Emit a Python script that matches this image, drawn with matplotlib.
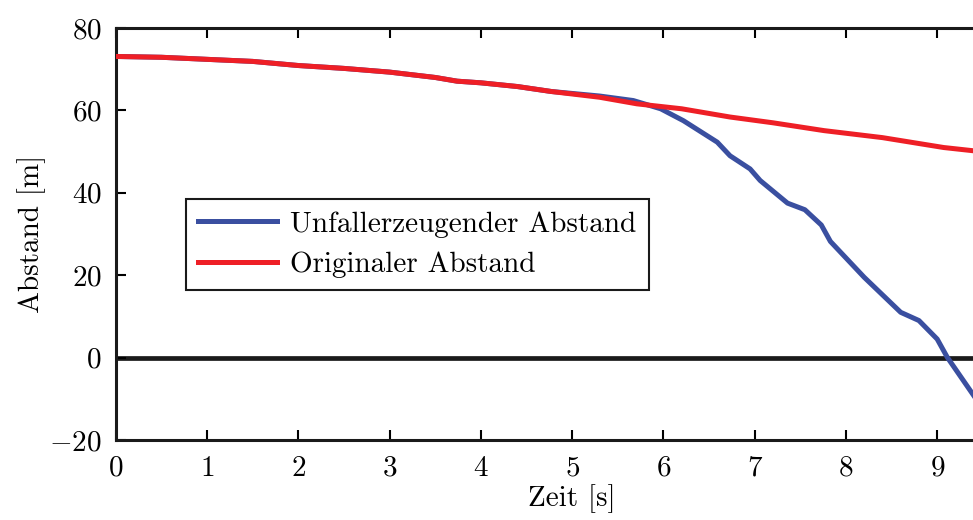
import numpy as np
import matplotlib
matplotlib.use("Agg")
import matplotlib.pyplot as plt

# DATEN
zeit_orig = [0.0, 0.5, 1.0, 1.5, 2.0, 2.5, 3.0, 3.5, 3.74, 4.0, 4.4, 4.77, 5.3, 5.71,
             6.2, 6.73, 7.2, 7.76, 8.4, 9.07, 9.4]
abst_orig = [73.1, 72.9, 72.4, 71.9, 70.9, 70.2, 69.3, 68.0, 67.1, 66.7, 65.8, 64.6,
             63.2, 61.6, 60.4, 58.4, 57.0, 55.1, 53.4, 51.0, 50.2]

zeit_unf = [0.0, 0.5, 1.0, 1.5, 2.0, 2.5, 3.0, 3.5, 3.74, 4.0, 4.4, 4.77, 5.3, 5.67,
            5.97, 6.22, 6.59, 6.73, 6.95, 7.06, 7.36, 7.55, 7.73, 7.83, 8.2, 8.6,
            8.8, 9.0, 9.11, 9.4]
abst_unf = [73.1, 72.9, 72.4, 71.9, 70.9, 70.2, 69.3, 68.0, 67.1, 66.7, 65.8, 64.6,
            63.5, 62.4, 60.4, 57.5, 52.3, 49.0, 45.8, 43.0, 37.5, 35.9, 32.2, 28.2,
            19.5, 11.0, 9.0, 4.5, 0.1, -9.2]

x_ticks = [0, 1, 2, 3, 4, 5, 6, 7, 8, 9]
y_ticks = [-20, 0, 20, 40, 60, 80]

BLAU = "#3a4fa0"
ROT = "#ee1f26"

plt.rcParams["font.family"] = ["cmr10"]
plt.rcParams["mathtext.fontset"] = "cm"
plt.rcParams["axes.formatter.use_mathtext"] = True
plt.rcParams["font.size"] = 21

fig = plt.figure(figsize=(9.73, 5.2), dpi=100)
ax = fig.add_axes([0.119, 0.1538, 0.938, 0.7923])

ax.axhline(0, color="#1a1a1a", linewidth=3.4, zorder=1)
ax.plot(zeit_unf, abst_unf, color=BLAU, linewidth=3.6, label="Unfallerzeugender Abstand", zorder=2)
ax.plot(zeit_orig, abst_orig, color=ROT, linewidth=3.6, label="Originaler Abstand", zorder=3)

ax.set_xlim(0, 10)
ax.set_ylim(-20, 80)
ax.set_xticks(x_ticks)
ax.set_yticks(y_ticks)
ax.tick_params(direction="in", length=7, width=1.5, top=True, right=True, pad=11)
ax.tick_params(axis="y", pad=10)
for s in ax.spines.values():
    s.set_linewidth(2.2)
    s.set_color("#1a1a1a")

ax.set_xlabel("Zeit [s]", labelpad=2)
ax.set_ylabel("Abstand [m]", labelpad=2)

leg = ax.legend(loc="lower left", bbox_to_anchor=(0.061, 0.328), fontsize=21,
                fancybox=False, edgecolor="#1a1a1a", framealpha=1,
                handlelength=2.7, borderpad=0.42, labelspacing=0.48, handletextpad=0.45)
leg.get_frame().set_linewidth(1.5)

plt.savefig("out.png", dpi=100)
plt.close()
